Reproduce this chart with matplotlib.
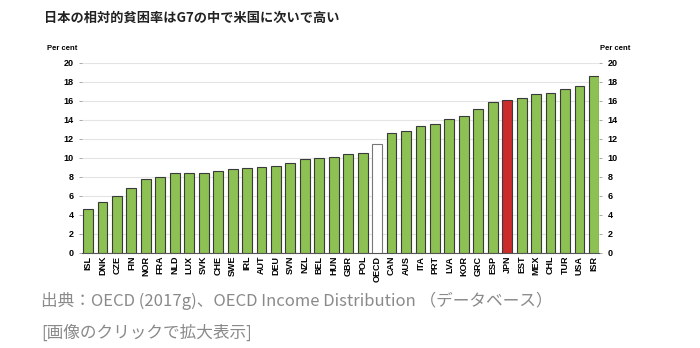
import matplotlib.pyplot as plt

plt.rcParams['font.family'] = ['Noto Sans CJK JP', 'DejaVu Sans']

countries = ['ISL', 'DNK', 'CZE', 'FIN', 'NOR', 'FRA', 'NLD', 'LUX', 'SVK', 'CHE',
             'SWE', 'IRL', 'AUT', 'DEU', 'SVN', 'NZL', 'BEL', 'HUN', 'GBR', 'POL',
             'OECD', 'CAN', 'AUS', 'ITA', 'PRT', 'LVA', 'KOR', 'GRC', 'ESP', 'JPN',
             'EST', 'MEX', 'CHL', 'TUR', 'USA', 'ISR']
poverty_rate = [4.6, 5.4, 6.0, 6.8, 7.8, 8.0, 8.4, 8.4, 8.4, 8.6,
                8.8, 8.9, 9.0, 9.1, 9.5, 9.9, 10.0, 10.1, 10.4, 10.5,
                11.5, 12.6, 12.8, 13.3, 13.6, 14.1, 14.4, 15.1, 15.9, 16.1,
                16.3, 16.7, 16.8, 17.2, 17.5, 18.6]
yticks = list(range(0, 21, 2))

green = '#8dc153'
colors = []
edges = []
for c in countries:
    if c == 'JPN':
        colors.append('#cc2b2b')
        edges.append('#3a3a3a')
    elif c == 'OECD':
        colors.append('white')
        edges.append('#777777')
    else:
        colors.append(green)
        edges.append('#3a3a3a')

fig = plt.figure(figsize=(7, 3.48), dpi=100)
ax = fig.add_axes([0.1167, 0.273, 0.739, 0.547])

x = range(len(countries))
ax.bar(x, poverty_rate, width=0.68, color=colors, edgecolor=edges, linewidth=0.8, zorder=3)

ax.set_ylim(0, 20)
ax.set_xlim(-0.44, len(countries) - 0.65)
ax.set_yticks(yticks)
ax.grid(axis='y', color='#e4e4e4', linewidth=0.8, zorder=0)
for s in ['top', 'left', 'right']:
    ax.spines[s].set_visible(False)
ax.spines['bottom'].set_color('#555555')
ax.spines['bottom'].set_linewidth(0.8)

ax.tick_params(axis='y', which='both', left=True, right=True, labelleft=True, labelright=True,
               length=2, width=0.6, color='#999999', labelsize=6.5, pad=4)
ax.set_xticks(list(x))
ax.set_xticklabels(countries, rotation=90, fontsize=6.5, fontweight='bold',
                   family=['Liberation Sans', 'DejaVu Sans'])
ax.tick_params(axis='x', length=0, pad=2)
for lab in ax.get_yticklabels():
    lab.set_fontweight('bold')
    lab.set_family(['Liberation Sans', 'DejaVu Sans'])

fig.text(0.067, 0.855, 'Per cent', fontsize=5.5, fontweight='bold',
         family=['Liberation Sans', 'DejaVu Sans'])
fig.text(0.857, 0.855, 'Per cent', fontsize=5.5, fontweight='bold',
         family=['Liberation Sans', 'DejaVu Sans'])

fig.text(0.063, 0.95, '日本の相対的貧困率はG7の中で米国に次いで高い', fontsize=9.5,
         fontweight='bold', va='center', color='#222222')
fig.text(0.059, 0.135, '出典：OECD (2017g)、OECD Income Distribution （データベース）',
         fontsize=12, color='#8a8a8a', va='center')
fig.text(0.059, 0.043, '[画像のクリックで拡大表示]', fontsize=12, color='#8a8a8a', va='center')

fig.savefig('out.png', dpi=100)
